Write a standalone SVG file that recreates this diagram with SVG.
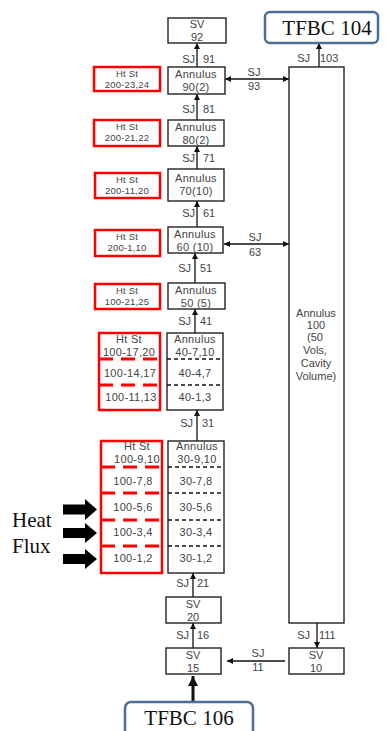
<svg xmlns="http://www.w3.org/2000/svg" width="392" height="731" viewBox="0 0 392 731">
<style>
.bx{fill:#fff;stroke:#222;stroke-width:1.4}
.rb{fill:#fff;stroke:#f00;stroke-width:2.5}
.t{font-family:"Liberation Sans","Noto Sans",sans-serif;font-size:11px;fill:#444;text-anchor:middle}
.ts{font-family:"Liberation Sans","Noto Sans",sans-serif;font-size:9.5px;fill:#444;text-anchor:middle;letter-spacing:0.2px}
.tm{font-family:"Liberation Sans","Noto Sans",sans-serif;font-size:11px;fill:#444;text-anchor:middle;letter-spacing:0.3px}
.sj{font-family:"Liberation Sans","Noto Sans",sans-serif;font-size:11px;fill:#444}
.e{text-anchor:end}
.m{text-anchor:middle}
.c{stroke:#111;stroke-width:1.3;fill:none}
.bd{stroke:#111;stroke-width:1.5;stroke-dasharray:4 3}
.rd{stroke:#f00;stroke-width:3;stroke-dasharray:14 8}
.tf{fill:#fff;stroke:#4a6e96;stroke-width:2.5}
.tft{font-family:"Liberation Serif","DejaVu Serif",serif;font-size:21px;fill:#111;text-anchor:middle}
.hf{font-family:"Liberation Serif","DejaVu Serif",serif;font-size:21px;fill:#111}
</style>
<defs>
<marker id="a" viewBox="0 0 10 10" refX="10" refY="5" markerWidth="6" markerHeight="6" markerUnits="userSpaceOnUse" orient="auto-start-reverse">
<path d="M0,0 L10,5 L0,10 z" fill="#111"/>
</marker>
<marker id="ab" viewBox="0 0 10 10" refX="10" refY="5" markerWidth="10" markerHeight="11" markerUnits="userSpaceOnUse" orient="auto">
<path d="M0,0 L10,5 L0,10 z" fill="#111"/>
</marker>
</defs>

<g id="connectors">
<line class="c" x1="197" y1="67" x2="197" y2="43" marker-end="url(#a)"/>
<line class="c" x1="197" y1="120" x2="197" y2="94" marker-end="url(#a)"/>
<line class="c" x1="197" y1="169" x2="197" y2="146" marker-end="url(#a)"/>
<line class="c" x1="197" y1="227" x2="197" y2="201" marker-end="url(#a)"/>
<line class="c" x1="195" y1="283" x2="195" y2="253" marker-end="url(#a)"/>
<line class="c" x1="195" y1="333" x2="195" y2="309" marker-end="url(#a)"/>
<line class="c" x1="197" y1="441" x2="197" y2="410" marker-end="url(#a)"/>
<line class="c" x1="193" y1="597" x2="193" y2="573" marker-end="url(#a)"/>
<line class="c" x1="193" y1="648" x2="193" y2="623" marker-end="url(#a)"/>
<line class="c" x1="285" y1="661" x2="227" y2="661" marker-end="url(#a)"/>
<line class="c" x1="317" y1="623" x2="317" y2="648" marker-end="url(#a)"/>
<line class="c" x1="319" y1="67" x2="319" y2="43" marker-end="url(#a)"/>
<line class="c" x1="225" y1="79" x2="289" y2="79" marker-start="url(#a)" marker-end="url(#a)"/>
<line class="c" x1="224" y1="244" x2="289" y2="244" marker-start="url(#a)" marker-end="url(#a)"/>
<line x1="193" y1="702" x2="193" y2="676" stroke="#111" stroke-width="3" marker-end="url(#ab)"/>
<text class="sj e" x="195" y="63">SJ</text><text class="sj" x="203" y="63">91</text>
<text class="sj e" x="195" y="113">SJ</text><text class="sj" x="203" y="113">81</text>
<text class="sj e" x="195" y="162">SJ</text><text class="sj" x="203" y="162">71</text>
<text class="sj e" x="195" y="217">SJ</text><text class="sj" x="203" y="217">61</text>
<text class="sj e" x="191" y="272">SJ</text><text class="sj" x="200" y="272">51</text>
<text class="sj e" x="191" y="325">SJ</text><text class="sj" x="200" y="325">41</text>
<text class="sj e" x="193" y="427">SJ</text><text class="sj" x="202" y="427">31</text>
<text class="sj e" x="189" y="587">SJ</text><text class="sj" x="197" y="587">21</text>
<text class="sj e" x="189" y="639">SJ</text><text class="sj" x="197" y="639">16</text>
<text class="sj m" x="258" y="657">SJ</text><text class="sj m" x="258" y="671">11</text>
<text class="sj e" x="310" y="639">SJ</text><text class="sj" x="319" y="639">111</text>
<text class="sj e" x="310" y="62">SJ</text><text class="sj" x="320" y="62">103</text>
<text class="sj m" x="254" y="76">SJ</text><text class="sj m" x="254" y="90">93</text>
<text class="sj m" x="255" y="241">SJ</text><text class="sj m" x="255" y="256">63</text>
</g>

<g id="tfbc104">
<rect class="tf" x="265" y="12" width="113" height="31" rx="5"/>
<text class="tft" x="327" y="35">TFBC 104</text>
</g>
<g id="tfbc106">
<rect class="tf" x="125" y="702" width="128" height="40" rx="6"/>
<text class="tft" x="189" y="725">TFBC 106</text>
</g>

<g id="sv92">
<rect class="bx" x="168" y="18" width="58" height="25"/>
<text class="t" x="197" y="28">SV</text><text class="t" x="197" y="41">92</text>
</g>
<g id="ann90">
<rect class="bx" x="168" y="67" width="57" height="27"/>
<text class="tm" x="196" y="78">Annulus</text><text class="tm" x="196" y="91">90(2)</text>
</g>
<g id="ht90">
<rect class="rb" x="94" y="67" width="66" height="24"/>
<text class="ts" x="127" y="77">Ht St</text><text class="ts" x="127" y="88">200-23,24</text>
</g>
<g id="ann80">
<rect class="bx" x="168" y="120" width="56" height="26"/>
<text class="tm" x="196" y="131">Annulus</text><text class="tm" x="196" y="144">80(2)</text>
</g>
<g id="ht80">
<rect class="rb" x="94" y="120" width="66" height="26"/>
<text class="ts" x="127" y="130">Ht St</text><text class="ts" x="127" y="141">200-21,22</text>
</g>
<g id="ann70">
<rect class="bx" x="168" y="169" width="56" height="32"/>
<text class="tm" x="196" y="182">Annulus</text><text class="tm" x="196" y="195">70(10)</text>
</g>
<g id="ht70">
<rect class="rb" x="95" y="173" width="65" height="25"/>
<text class="ts" x="127" y="183">Ht St</text><text class="ts" x="127" y="194">200-11,20</text>
</g>
<g id="ann60">
<rect class="bx" x="168" y="227" width="55" height="26"/>
<text class="tm" x="195" y="238">Annulus</text><text class="tm" x="195" y="251">60 (10)</text>
</g>
<g id="ht60">
<rect class="rb" x="95" y="230" width="65" height="26"/>
<text class="ts" x="127" y="240">Ht St</text><text class="ts" x="127" y="251">200-1,10</text>
</g>
<g id="ann50">
<rect class="bx" x="168" y="283" width="57" height="26"/>
<text class="tm" x="196" y="294">Annulus</text><text class="tm" x="196" y="307">50 (5)</text>
</g>
<g id="ht50">
<rect class="rb" x="95" y="284" width="65" height="25"/>
<text class="ts" x="127" y="294">Ht St</text><text class="ts" x="127" y="305">100-21,25</text>
</g>

<g id="ann40">
<rect class="bx" x="167" y="333" width="56" height="77"/>
<line class="bd" x1="167" y1="359" x2="223" y2="359"/>
<line class="bd" x1="167" y1="385" x2="223" y2="385"/>
<text class="tm" x="195" y="343">Annulus</text>
<text class="tm" x="195" y="356">40-7,10</text>
<text class="tm" x="195" y="377">40-4,7</text>
<text class="tm" x="195" y="401">40-1,3</text>
</g>
<g id="ht40">
<rect class="rb" x="99" y="333" width="61" height="77"/>
<line class="rd" x1="99" y1="359" x2="160" y2="359"/>
<line class="rd" x1="99" y1="385" x2="160" y2="385"/>
<text class="tm" x="129" y="343">Ht St</text>
<text class="tm" x="129" y="356">100-17,20</text>
<text class="tm" x="130" y="377">100-14,17</text>
<text class="tm" x="131" y="401">100-11,13</text>
</g>

<g id="ann30">
<rect class="bx" x="168" y="441" width="56" height="132"/>
<line class="bd" x1="168" y1="467" x2="224" y2="467"/>
<line class="bd" x1="168" y1="493" x2="224" y2="493"/>
<line class="bd" x1="168" y1="520" x2="224" y2="520"/>
<line class="bd" x1="168" y1="546" x2="224" y2="546"/>
<text class="tm" x="197" y="450">Annulus</text>
<text class="tm" x="197" y="463">30-9,10</text>
<text class="tm" x="196" y="485">30-7,8</text>
<text class="tm" x="196" y="511">30-5,6</text>
<text class="tm" x="196" y="536">30-3,4</text>
<text class="tm" x="196" y="562">30-1,2</text>
</g>
<g id="ht30">
<rect class="rb" x="101" y="441" width="61" height="132"/>
<line class="rd" x1="101" y1="467" x2="162" y2="467"/>
<line class="rd" x1="101" y1="493" x2="162" y2="493"/>
<line class="rd" x1="101" y1="520" x2="162" y2="520"/>
<line class="rd" x1="101" y1="546" x2="162" y2="546"/>
<text class="tm" x="137" y="450">Ht St</text>
<text class="tm" x="137" y="463">100-9,10</text>
<text class="tm" x="133" y="485">100-7,8</text>
<text class="tm" x="133" y="511">100-5,6</text>
<text class="tm" x="133" y="536">100-3,4</text>
<text class="tm" x="133" y="562">100-1,2</text>
</g>

<g id="heatflux">
<text class="hf" x="12" y="527">Heat</text>
<text class="hf" x="12" y="553">Flux</text>
<polygon fill="#000" points="63,504.5 85,504.5 85,499 97,509.5 85,520 85,514.5 63,514.5"/>
<polygon fill="#000" points="63,528 85,528 85,523 97,533 85,543 85,538 63,538"/>
<polygon fill="#000" points="63,554 85,554 85,549 97,559 85,569 85,564 63,564"/>
</g>

<g id="ann100">
<rect class="bx" x="289" y="67" width="55" height="556"/>
<text class="t" x="316" y="317">Annulus</text>
<text class="t" x="316" y="329">100</text>
<text class="t" x="315" y="341">(50</text>
<text class="t" x="315" y="354">Vols,</text>
<text class="t" x="316" y="367">Cavity</text>
<text class="t" x="316" y="380">Volume)</text>
</g>
<g id="sv20">
<rect class="bx" x="166" y="597" width="55" height="26"/>
<text class="t" x="193" y="608">SV</text><text class="t" x="193" y="621">20</text>
</g>
<g id="sv15">
<rect class="bx" x="166" y="648" width="55" height="26"/>
<text class="t" x="193" y="659">SV</text><text class="t" x="193" y="672">15</text>
</g>
<g id="sv10">
<rect class="bx" x="289" y="648" width="55" height="26"/>
<text class="t" x="316" y="659">SV</text><text class="t" x="316" y="672">10</text>
</g>
</svg>
